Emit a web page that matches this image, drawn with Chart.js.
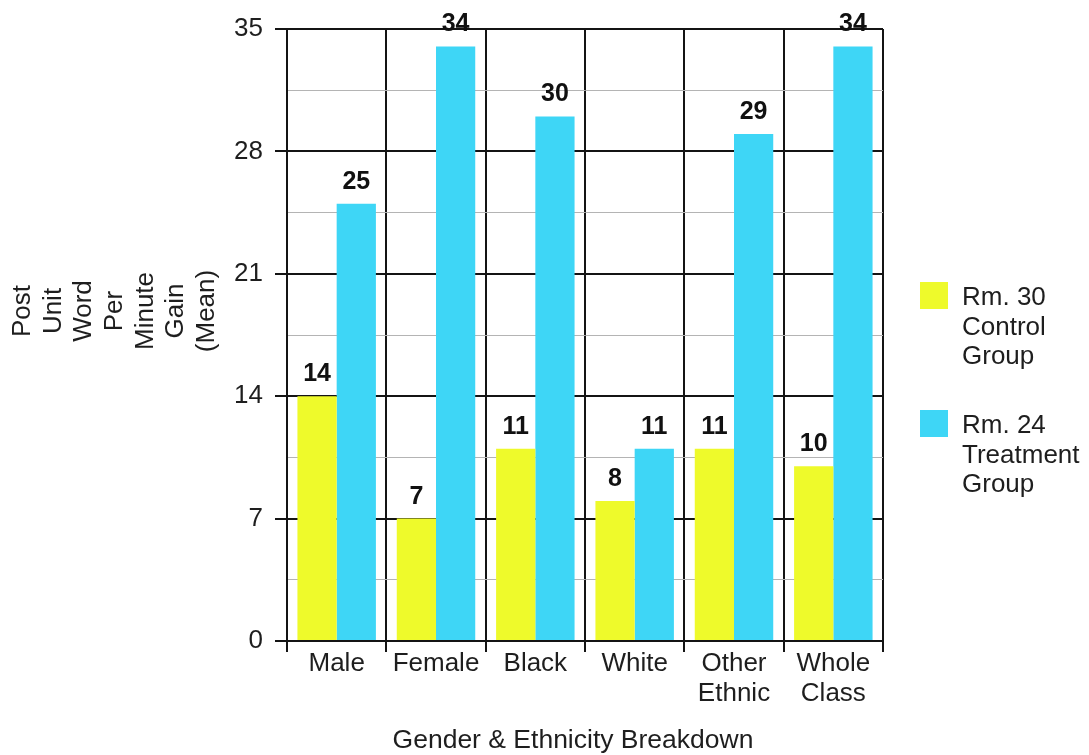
<!DOCTYPE html>
<html>
<head>
<meta charset="utf-8">
<script src="https://cdn.jsdelivr.net/npm/chart.js@4.4.1/dist/chart.umd.min.js"></script>
<style>
  html, body { margin: 0; padding: 0; background: #ffffff; }
  #wrap { width: 1089px; height: 755px; position: relative; }
</style>
</head>
<body>
<div id="wrap"><canvas id="chart" width="1089" height="755"></canvas></div>
<script>
// Categories along the x axis (multi-line labels as arrays)
const categories = [['Male'], ['Female'], ['Black'], ['White'], ['Other', 'Ethnic'], ['Whole', 'Class']];

// Mean post-unit words-per-minute gain per group
const controlGains = [14, 7, 11, 8, 11, 10];
const treatmentGains = [25, 34, 30, 11, 29, 34];

// Series names, each split over several lines
const controlLabel = ['Rm. 30', 'Control', 'Group'];
const treatmentLabel = ['Rm. 24', 'Treatment', 'Group'];

// Axis titles
const yTitleLines = ['Post', 'Unit', 'Word', 'Per', 'Minute', 'Gain', '(Mean)'];
const xTitleText = 'Gender & Ethnicity Breakdown';

// Value axis range: labelled every 7, light lines every 3.5
const yMin = 0;
const yMax = 35;
const yMinorStep = 3.5;
const yMajorStep = 7;

const FONT = "'Liberation Sans', Arial, Helvetica, sans-serif";
const TEXT = '#1e1e1e';
const LINE = '#141414';
const MINOR = '#b4b4b4';
const YELLOW = '#EEFA2B';
const CYAN = '#3ED6F6';

const isMajor = v => Math.abs(v / yMajorStep - Math.round(v / yMajorStep)) < 1e-6;

// Bold value printed above every bar
const valueLabels = {
  id: 'valueLabels',
  afterDatasetsDraw(chart) {
    const ctx = chart.ctx;
    ctx.save();
    ctx.font = 'bold 25px ' + FONT;
    ctx.fillStyle = '#111';
    ctx.textAlign = 'center';
    ctx.textBaseline = 'alphabetic';
    chart.data.datasets.forEach((ds, di) => {
      chart.getDatasetMeta(di).data.forEach((bar, i) => {
        ctx.fillText(String(ds.data[i]), bar.x, bar.y - 15);
      });
    });
    ctx.restore();
  }
};

// Axis titles and the side legend
const sideText = {
  id: 'sideText',
  afterDraw(chart) {
    const ctx = chart.ctx;
    ctx.save();
    ctx.fillStyle = TEXT;
    ctx.font = '26px ' + FONT;

    // stacked, rotated y-axis title
    ctx.textAlign = 'center';
    ctx.textBaseline = 'middle';
    yTitleLines.forEach((line, i) => {
      ctx.save();
      ctx.translate(23 + i * 30.6, 311);
      ctx.rotate(-Math.PI / 2);
      ctx.fillText(line, 0, 0);
      ctx.restore();
    });

    // x-axis title
    ctx.textBaseline = 'alphabetic';
    ctx.font = '26.5px ' + FONT;
    ctx.fillText(xTitleText, 573, 748);

    // legend
    ctx.font = '26px ' + FONT;
    ctx.textAlign = 'left';
    const items = [
      { color: YELLOW, lines: chart.data.datasets[0].label, top: 282 },
      { color: CYAN, lines: chart.data.datasets[1].label, top: 410 }
    ];
    items.forEach(it => {
      ctx.fillStyle = it.color;
      ctx.fillRect(920, it.top, 28, 27);
      ctx.fillStyle = TEXT;
      it.lines.forEach((line, j) => {
        ctx.fillText(line, 962, it.top + 23 + j * 29.5);
      });
    });
    ctx.restore();
  }
};

new Chart(document.getElementById('chart'), {
  type: 'bar',
  data: {
    labels: categories,
    datasets: [
      { label: controlLabel, data: controlGains, backgroundColor: YELLOW, borderWidth: 0 },
      { label: treatmentLabel, data: treatmentGains, backgroundColor: CYAN, borderWidth: 0 }
    ]
  },
  options: {
    responsive: false,
    animation: false,
    devicePixelRatio: 1,
    layout: { padding: { top: 29, right: 206, left: 0, bottom: 0 } },
    datasets: { bar: { categoryPercentage: 0.79, barPercentage: 1.0 } },
    plugins: {
      legend: { display: false },
      tooltip: { enabled: false }
    },
    scales: {
      x: {
        grid: {
          offset: true,
          color: LINE,
          lineWidth: 2,
          tickColor: LINE,
          tickLength: 11,
          drawOnChartArea: true
        },
        border: { color: LINE, width: 2 },
        ticks: {
          color: TEXT,
          font: { family: FONT, size: 26, lineHeight: 1.15 },
          padding: -3,
          maxRotation: 0,
          autoSkip: false
        },
        afterFit(scale) { scale.height = 114; }
      },
      y: {
        min: yMin,
        max: yMax,
        grid: {
          color: c => isMajor(c.tick.value) ? LINE : MINOR,
          lineWidth: c => isMajor(c.tick.value) ? 2 : 1,
          tickColor: c => isMajor(c.tick.value) ? LINE : 'rgba(0,0,0,0)',
          tickLength: 12
        },
        border: { color: LINE, width: 2 },
        ticks: {
          stepSize: yMinorStep,
          color: TEXT,
          font: { family: FONT, size: 26 },
          padding: 12,
          autoSkip: false,
          callback: v => isMajor(v) ? String(Math.round(v)) : ''
        },
        afterFit(scale) { scale.width = 287; }
      }
    }
  },
  plugins: [valueLabels, sideText]
});
</script>
</body>
</html>
